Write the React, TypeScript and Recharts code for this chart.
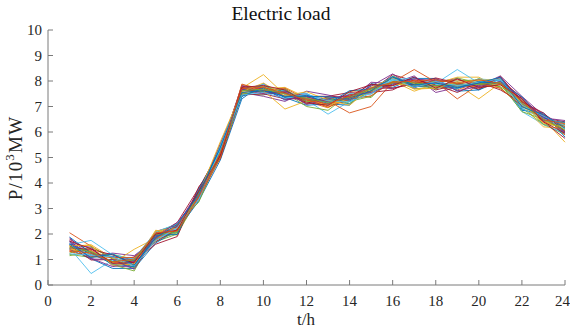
import { LineChart, Line, XAxis, YAxis } from "recharts";

// hour of day
const hours = [1, 2, 3, 4, 5, 6, 7, 8, 9, 10, 11, 12, 13, 14, 15, 16, 17, 18, 19, 20, 21, 22, 23, 24];

// load scenarios (10^3 MW)
const a01 = [1.70, 1.18, 1.10, 0.75, 2.00, 2.05, 3.60, 5.40, 7.40, 7.75, 7.25, 7.45, 7.25, 7.10, 7.85, 7.85, 8.15, 7.70, 7.95, 7.65, 8.10, 6.90, 6.60, 5.95];
const a02 = [1.30, 1.43, 0.85, 0.95, 1.75, 2.30, 3.35, 5.05, 7.75, 7.55, 7.60, 7.20, 6.95, 7.45, 7.50, 8.15, 7.75, 8.05, 7.65, 8.00, 7.85, 7.30, 6.35, 6.30];
const a03 = [1.60, 1.48, 0.75, 0.70, 2.10, 2.35, 3.70, 5.10, 7.65, 7.85, 7.40, 7.50, 7.05, 7.40, 7.75, 7.70, 7.95, 7.95, 8.10, 7.75, 8.15, 7.20, 6.70, 6.20];
const a04 = [1.20, 1.08, 1.20, 1.00, 1.70, 2.00, 3.45, 5.50, 7.50, 7.45, 7.70, 7.10, 7.35, 7.20, 7.40, 8.05, 7.70, 7.75, 7.70, 8.10, 7.75, 6.95, 6.30, 5.90];
const a05 = [1.80, 1.28, 0.90, 1.10, 1.95, 2.45, 3.80, 5.30, 7.80, 7.60, 7.50, 7.40, 7.40, 7.55, 7.60, 8.25, 8.00, 7.65, 7.85, 7.90, 8.05, 7.35, 6.55, 6.40];
const a06 = [1.40, 1.03, 0.65, 0.65, 1.65, 2.15, 3.30, 4.90, 7.30, 7.90, 7.35, 7.05, 7.10, 7.05, 7.90, 7.75, 8.10, 8.10, 7.60, 7.65, 8.00, 6.85, 6.75, 5.80];
const a07 = [1.50, 1.58, 1.05, 0.85, 2.15, 1.95, 3.65, 5.00, 7.85, 7.70, 7.75, 7.35, 6.95, 7.60, 7.65, 8.00, 7.60, 7.90, 8.15, 8.15, 7.70, 7.05, 6.20, 6.15];
const a08 = [1.85, 1.13, 1.25, 1.15, 1.80, 2.25, 3.50, 5.55, 7.55, 7.40, 7.20, 7.60, 7.45, 7.25, 7.95, 7.90, 8.20, 7.55, 7.75, 7.80, 8.20, 7.40, 6.65, 6.00];
const a09 = [1.15, 1.33, 0.80, 0.55, 2.05, 2.40, 3.25, 5.20, 7.70, 7.80, 7.55, 7.00, 6.85, 7.50, 7.35, 8.20, 7.85, 8.00, 8.00, 8.05, 7.90, 6.80, 6.50, 6.35];
const a10 = [1.55, 0.98, 1.00, 0.90, 1.60, 1.90, 3.85, 4.95, 7.45, 7.50, 7.30, 7.30, 7.20, 7.35, 7.55, 7.65, 8.05, 7.85, 7.55, 7.95, 7.65, 7.15, 6.40, 5.75];
const a11 = [1.62, 1.22, 1.12, 0.95, 1.85, 2.32, 3.58, 5.35, 7.68, 7.58, 7.62, 7.22, 7.28, 7.22, 7.72, 8.10, 7.82, 7.92, 7.78, 7.98, 8.05, 7.02, 6.58, 6.05];
const a12 = [1.38, 1.36, 0.88, 0.78, 2.02, 2.12, 3.40, 5.12, 7.52, 7.78, 7.38, 7.42, 7.02, 7.48, 7.58, 7.82, 8.02, 7.78, 7.96, 7.72, 7.88, 7.22, 6.42, 6.22];
const a13 = [1.75, 1.05, 0.72, 0.92, 1.92, 2.28, 3.68, 5.25, 7.82, 7.68, 7.28, 7.38, 7.18, 7.32, 7.80, 8.28, 7.72, 8.08, 7.88, 7.82, 8.12, 7.08, 6.62, 5.98];
const a14 = [1.25, 1.50, 1.02, 0.68, 1.78, 2.05, 3.52, 5.02, 7.48, 7.62, 7.68, 7.18, 7.32, 7.12, 7.62, 7.92, 7.92, 7.68, 8.12, 7.92, 7.78, 7.25, 6.28, 6.28];
const a15 = [1.58, 1.15, 0.95, 1.05, 2.08, 2.40, 3.35, 5.45, 7.62, 7.88, 7.48, 7.52, 7.08, 7.52, 7.48, 8.05, 8.12, 7.88, 7.68, 8.08, 8.02, 6.92, 6.52, 6.12];
const a16 = [1.45, 1.40, 1.18, 0.85, 1.70, 2.18, 3.62, 5.08, 7.72, 7.52, 7.55, 7.12, 7.38, 7.38, 7.88, 7.72, 7.88, 8.12, 7.92, 7.68, 8.18, 7.18, 6.75, 6.02];
const a17 = [1.88, 1.25, 0.82, 0.72, 1.95, 1.98, 3.75, 5.30, 7.40, 7.72, 7.35, 7.45, 7.12, 7.62, 7.68, 8.18, 7.78, 7.82, 7.72, 7.95, 7.92, 7.38, 6.45, 6.38];
const a18 = [1.32, 1.12, 1.08, 1.08, 1.82, 2.35, 3.42, 4.98, 7.88, 7.62, 7.72, 7.28, 6.98, 7.28, 7.42, 7.98, 7.95, 7.95, 8.05, 7.88, 7.72, 7.02, 6.68, 5.88];
const a19 = [1.55, 1.55, 0.78, 0.82, 2.12, 2.22, 3.55, 5.62, 7.58, 7.92, 7.42, 7.58, 7.25, 7.05, 7.75, 8.12, 7.68, 7.72, 7.95, 8.02, 8.08, 7.12, 6.35, 6.18];
const a20 = [1.68, 1.02, 1.00, 0.62, 1.88, 2.45, 3.48, 5.15, 7.68, 7.48, 7.58, 7.08, 7.30, 7.45, 7.55, 7.88, 8.08, 8.02, 7.62, 7.78, 7.98, 7.28, 6.55, 6.45];
const a21 = [1.48, 1.30, 0.92, 0.98, 1.98, 2.08, 3.62, 5.22, 7.62, 7.68, 7.50, 7.32, 7.16, 7.36, 7.68, 7.96, 7.92, 7.82, 7.88, 7.86, 7.94, 7.12, 6.50, 6.08];
const a22 = [1.22, 1.18, 1.10, 0.75, 1.75, 2.25, 3.38, 5.32, 7.45, 7.55, 7.32, 7.48, 7.22, 7.18, 7.52, 8.08, 7.75, 7.98, 7.82, 7.95, 8.08, 7.05, 6.62, 6.25];
const a23 = [1.72, 1.42, 0.85, 0.88, 2.00, 2.15, 3.68, 5.08, 7.75, 7.82, 7.65, 7.15, 7.05, 7.58, 7.85, 7.82, 8.15, 7.72, 8.08, 7.75, 7.85, 7.32, 6.40, 5.95];
const a24 = [1.60, 1.08, 1.22, 0.78, 1.85, 2.38, 3.55, 5.40, 7.55, 7.62, 7.40, 7.40, 7.38, 7.28, 7.62, 8.15, 7.85, 7.92, 7.75, 7.92, 8.15, 6.98, 6.68, 6.15];
const a25 = [1.35, 1.25, 0.90, 1.02, 2.05, 2.12, 3.45, 5.18, 7.70, 7.75, 7.52, 7.25, 7.10, 7.42, 7.72, 7.95, 8.00, 8.05, 7.90, 8.05, 7.90, 7.22, 6.48, 6.32];
// the few stray scenarios that leave the band
const o1 = [1.45, 0.45, 0.98, 0.70, 1.80, 2.10, 3.42, 5.02, 7.56, 7.60, 7.40, 7.26, 6.70, 7.20, 7.58, 7.92, 7.80, 7.74, 7.80, 7.78, 7.90, 6.80, 6.30, 5.94];
const o2 = [1.58, 1.75, 1.18, 1.02, 1.90, 2.20, 3.50, 5.10, 7.62, 7.66, 7.52, 7.32, 7.16, 7.36, 7.72, 8.02, 7.96, 7.90, 8.45, 7.92, 8.02, 7.16, 6.56, 6.16];
const o3 = [2.05, 1.52, 1.02, 0.96, 1.96, 2.30, 3.62, 5.16, 7.66, 7.62, 7.50, 7.36, 7.22, 6.75, 7.00, 7.96, 8.45, 7.96, 7.30, 7.86, 7.96, 7.22, 6.62, 6.22];
const o4 = [1.50, 1.30, 0.90, 0.80, 1.86, 2.26, 3.72, 5.42, 7.72, 8.25, 7.46, 7.30, 7.10, 7.32, 7.62, 7.96, 7.86, 7.80, 7.86, 7.30, 7.92, 7.06, 6.50, 5.60];
const o5 = [1.42, 1.22, 0.86, 1.40, 1.84, 2.16, 3.46, 5.10, 7.56, 7.62, 6.90, 7.22, 7.06, 7.30, 7.56, 7.90, 7.80, 7.76, 7.80, 7.80, 7.86, 7.06, 6.46, 6.06];

const scenarios = [a01, a02, o4, a03, a04, o1, a05, a06, o3, a07, a08, a09, o2, a10, a11, a12, o5, a13, a14, a15, a16, a17, a18, a19, a20, a21, a22, a23, a24, a25];

const xTicks = [0, 2, 4, 6, 8, 10, 12, 14, 16, 18, 20, 22, 24];
const yTicks = [0, 1, 2, 3, 4, 5, 6, 7, 8, 9, 10];

// MATLAB default line colour order
const COLORS = ["#0072BD", "#D95319", "#EDB120", "#7E2F8E", "#77AC30", "#4DBEEE", "#A2142F"];

const data = hours.map((t, i) => {
  const row: { [k: string]: number } = { t };
  scenarios.forEach((s, j) => {
    row["s" + j] = s[i];
  });
  return row;
});

const FONT = "Times New Roman";
const AXIS = "#7a7a7a";
const TEXT = "#262626";

function YLabel() {
  return (
    <text
      x={0}
      y={0}
      transform="translate(22 158) rotate(-90)"
      textAnchor="middle"
      fontFamily={FONT}
      fontSize={19}
      letterSpacing={1.2}
      fill={TEXT}
    >
      P/10
      <tspan fontSize={13} dy={-8}>3</tspan>
      <tspan dy={8}>MW</tspan>
    </text>
  );
}

function XLabel() {
  return (
    <text x={306} y={325} textAnchor="middle" fontFamily={FONT} fontSize={17} fill={TEXT}>
      t/h
    </text>
  );
}

export default function App() {
  const tickStyle = { fontFamily: FONT, fontSize: 15, fill: TEXT };
  return (
    <div style={{ position: "relative", width: 570, height: 332, background: "#fff" }}>
      <style>{"body{margin:0}"}</style>
      <div
        style={{
          position: "absolute",
          left: 181,
          width: 200,
          top: 3,
          textAlign: "center",
          fontFamily: FONT,
          fontSize: 19.5,
          color: "#111",
          lineHeight: "22px",
        }}
      >
        Electric load
      </div>
      <LineChart width={570} height={332} data={data} margin={{ top: 30, right: 5, bottom: 0, left: 0 }}>
        <XAxis
          xAxisId="b"
          dataKey="t"
          type="number"
          domain={[0, 24]}
          ticks={xTicks}
          height={47}
          tickSize={-5}
          tickMargin={15}
          stroke={AXIS}
          tick={tickStyle}
          label={{ content: () => <XLabel /> }}
        />
        <XAxis
          xAxisId="top"
          orientation="top"
          dataKey="t"
          type="number"
          domain={[0, 24]}
          ticks={xTicks}
          height={0}
          tickSize={-5}
          tick={false}
          stroke={AXIS}
        />
        <YAxis
          yAxisId="l"
          type="number"
          domain={[0, 10]}
          ticks={yTicks}
          width={48}
          tickSize={-5}
          tickMargin={11}
          stroke={AXIS}
          tick={tickStyle}
          label={{ content: () => <YLabel /> }}
        />
        <YAxis
          yAxisId="r"
          orientation="right"
          type="number"
          domain={[0, 10]}
          ticks={yTicks}
          width={0}
          tickSize={-5}
          tick={false}
          stroke={AXIS}
        />
        {scenarios.map((_, j) => (
          <Line
            key={j}
            xAxisId="b"
            yAxisId="l"
            dataKey={"s" + j}
            stroke={COLORS[j % COLORS.length]}
            strokeWidth={0.9}
            dot={false}
            activeDot={false}
            isAnimationActive={false}
          />
        ))}
      </LineChart>
    </div>
  );
}
